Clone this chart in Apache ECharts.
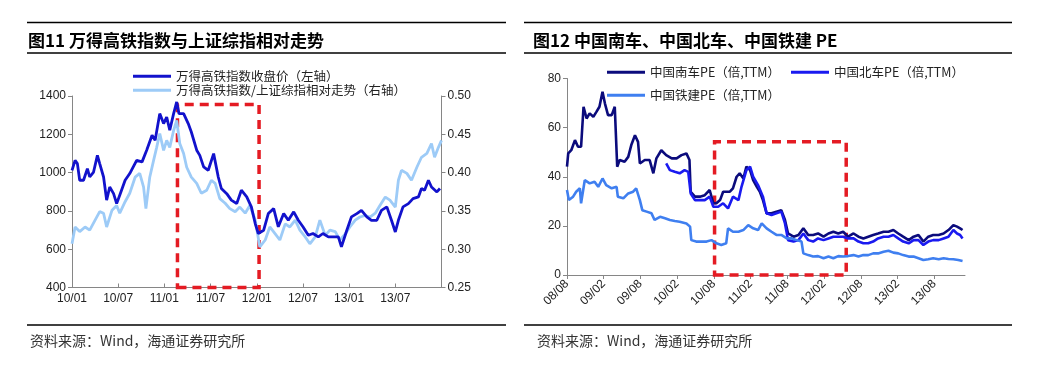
<!DOCTYPE html>
<html><head><meta charset="utf-8">
<script src="https://cdn.jsdelivr.net/npm/echarts@6/dist/echarts.min.js"></script>
<style>html,body{margin:0;padding:0;background:#fff}#c{width:1039px;height:375px}</style>
</head><body><div id="c"></div>
<script>
// ---------- Left chart (months since 2010-01) ----------
var leftXLabels = ['10/01','10/07','11/01','11/07','12/01','12/07','13/01','13/07'];
var leftNames = ['万得高铁指数收盘价（左轴）','万得高铁指数/上证综指相对走势（右轴）'];
var hsrIndex = [[0,1012],[0.4,1064],[0.7,1047],[1.0,960],[1.5,960],[2.0,1021],[2.3,977],[2.8,1003],[3.3,1090],[3.6,1047],[4.1,977],[4.5,856],[4.9,925],[5.4,890],[5.8,838],[6.2,882],[6.9,960],[7.5,995],[8.4,1064],[9.1,1056],[9.7,1117],[10.4,1195],[10.8,1169],[11.4,1308],[11.9,1256],[12.3,1290],[12.7,1221],[13.2,1308],[13.6,1369],[13.9,1308],[14.5,1308],[15.1,1256],[15.5,1212],[16.2,1117],[16.6,1090],[17.1,1030],[17.7,1012],[18.4,1099],[19.0,977],[19.4,917],[20.1,890],[20.7,856],[21.4,838],[22.0,908],[22.7,873],[23.3,821],[23.8,734],[24.2,682],[24.9,699],[25.5,786],[26.2,812],[26.8,717],[27.5,786],[28.1,751],[28.8,795],[29.4,751],[30.0,717],[30.7,673],[31.3,682],[32.0,664],[32.6,682],[33.3,664],[33.9,664],[34.6,664],[35.0,612],[35.7,699],[36.3,769],[37.0,786],[37.6,803],[38.3,769],[38.9,751],[39.6,751],[40.2,803],[40.9,821],[41.5,751],[42.0,690],[42.4,751],[43.0,821],[43.7,838],[44.3,864],[45.0,873],[45.4,917],[45.8,908],[46.3,960],[46.7,925],[47.4,899],[47.8,917]];
var hsrRatio = [[0,0.307],[0.4,0.329],[1.0,0.323],[1.7,0.329],[2.3,0.325],[3.0,0.338],[3.6,0.349],[4.1,0.347],[4.5,0.329],[5.2,0.351],[5.8,0.357],[6.2,0.347],[6.9,0.362],[7.5,0.373],[8.2,0.394],[8.8,0.399],[9.3,0.381],[9.6,0.353],[10.1,0.394],[10.6,0.416],[11.0,0.433],[11.4,0.451],[11.9,0.429],[12.3,0.442],[12.7,0.433],[13.2,0.455],[13.6,0.468],[14.0,0.438],[14.5,0.425],[14.9,0.407],[15.5,0.394],[16.2,0.386],[16.8,0.373],[17.5,0.377],[18.1,0.390],[18.6,0.386],[19.2,0.366],[19.9,0.360],[20.5,0.353],[21.2,0.349],[21.8,0.355],[22.5,0.347],[23.1,0.357],[23.8,0.338],[24.4,0.303],[25.1,0.312],[25.7,0.329],[26.4,0.320],[27.0,0.312],[27.7,0.333],[28.3,0.329],[29.0,0.338],[29.6,0.325],[30.3,0.316],[30.9,0.307],[31.6,0.316],[32.2,0.338],[32.9,0.318],[33.5,0.325],[34.2,0.323],[34.8,0.312],[35.5,0.320],[36.1,0.329],[36.8,0.338],[37.4,0.342],[38.1,0.344],[38.7,0.342],[39.4,0.347],[40.0,0.357],[40.7,0.368],[41.3,0.364],[42.0,0.355],[42.4,0.390],[42.8,0.403],[43.5,0.399],[44.1,0.390],[44.8,0.407],[45.4,0.420],[46.1,0.425],[46.7,0.438],[47.1,0.420],[47.6,0.433],[48.0,0.442]];
var leftBox = {x0: 13.7, x1: 24.3, y0: 400, y1: 1356};

// ---------- Right chart (months since 2008-08) ----------
var rightXLabels = ['08/08','09/02','09/08','10/02','10/08','11/02','11/08','12/02','12/08','13/02','13/08'];
var rightNames = ['中国南车PE（倍,TTM）','中国北车PE（倍,TTM）','中国铁建PE（倍,TTM）'];
var csrPE = [[0,44.1],[0.2,49.5],[0.7,50.8],[1.3,54.9],[1.8,52.2],[2.3,52.2],[2.7,68.5],[3.2,63.7],[3.7,65.8],[4.3,64.4],[4.8,66.4],[5.3,68.5],[5.8,74.6],[6.2,69.8],[6.7,65.1],[7.3,65.1],[7.8,68.5],[8.1,67.8],[8.2,44.1],[8.6,46.8],[9.4,46.1],[10.0,48.1],[10.5,52.9],[11.1,56.9],[11.6,54.2],[11.9,45.4],[12.7,46.8],[13.5,46.8],[14.1,41.4],[14.6,47.5],[15.4,50.8],[16.2,48.8],[17.1,47.5],[17.9,47.5],[18.7,48.8],[19.5,49.5],[20.0,46.8],[20.2,33.9],[20.9,31.9],[21.7,31.9],[22.5,32.5],[23.3,34.6],[23.9,29.2],[24.4,29.2],[25.0,30.5],[25.5,33.9],[26.1,33.9],[26.6,33.9],[27.1,35.3],[27.7,40.0],[28.2,41.4],[28.8,39.3],[29.3,44.1],[29.9,42.7],[30.4,38.6],[31.0,35.9],[31.5,33.9],[32.0,30.5],[32.6,25.1],[33.4,25.1],[34.2,25.8],[35.0,26.4],[35.6,22.4],[36.1,16.9],[37.0,15.6],[37.8,16.3],[38.6,19.0],[39.4,16.3],[40.2,16.3],[41.0,16.9],[41.9,15.6],[42.7,16.9],[43.5,17.6],[44.3,16.9],[45.1,17.6],[45.9,15.6],[46.8,16.9],[47.6,15.6],[48.4,14.9],[49.2,15.6],[50.0,16.3],[50.8,16.9],[51.7,17.6],[52.5,17.6],[53.3,18.3],[54.1,16.9],[54.9,15.6],[55.8,14.2],[56.6,15.6],[57.4,16.3],[58.2,13.6],[59.0,15.6],[59.8,16.3],[60.7,16.3],[61.5,16.9],[62.3,18.3],[63.1,20.3],[63.7,19.7],[64.2,19.0],[64.6,18.3]];
var cnrPE = [[16.2,45.4],[16.8,42.7],[17.6,42.0],[18.4,41.4],[19.2,42.7],[19.8,42.0],[20.2,33.2],[20.9,30.5],[21.7,30.5],[22.5,30.5],[23.3,31.9],[23.9,27.8],[24.7,27.8],[25.5,29.2],[26.3,27.1],[27.1,31.9],[28.0,30.5],[28.5,35.9],[29.3,42.7],[29.9,44.1],[30.4,40.0],[31.2,36.6],[32.0,31.9],[32.6,25.1],[33.4,24.4],[34.2,25.1],[35.0,25.8],[35.6,21.0],[36.1,14.2],[37.0,13.6],[37.8,14.2],[38.6,16.9],[39.4,14.2],[40.2,13.6],[41.0,14.9],[41.9,14.2],[42.7,14.9],[43.5,15.6],[44.3,15.6],[45.1,15.6],[45.9,14.9],[46.8,14.9],[47.6,13.6],[48.4,12.9],[49.2,12.9],[50.0,13.6],[50.8,14.9],[51.7,15.6],[52.5,15.6],[53.3,16.3],[54.1,14.9],[54.9,13.6],[55.8,12.9],[56.6,14.2],[57.4,14.2],[58.2,12.2],[59.0,13.6],[59.8,14.2],[60.7,14.2],[61.5,14.9],[62.3,15.6],[63.1,18.3],[63.7,16.9],[64.2,16.3],[64.6,14.9]];
var crccPE = [[0,34.6],[0.3,30.5],[1.0,31.9],[1.5,33.9],[2.1,35.3],[2.3,29.2],[2.9,38.6],[3.7,37.3],[4.5,38.0],[5.1,35.9],[5.8,39.3],[6.4,36.6],[7.3,35.3],[8.1,35.9],[8.3,31.9],[9.2,31.2],[10.0,33.2],[10.8,33.9],[11.3,35.3],[11.9,30.5],[12.3,26.4],[13.0,25.8],[13.8,25.1],[14.3,22.4],[15.2,23.7],[16.0,23.1],[16.8,22.4],[17.6,22.0],[18.4,21.7],[19.5,21.0],[20.1,19.7],[20.3,14.2],[21.1,13.6],[22.0,13.6],[22.8,13.6],[23.6,14.2],[24.4,12.9],[25.2,12.2],[26.0,12.9],[26.3,19.0],[27.1,17.6],[28.0,17.6],[28.8,18.3],[29.6,20.3],[30.4,19.0],[31.2,18.3],[31.8,21.0],[32.6,19.0],[33.4,17.6],[34.2,16.3],[35.0,16.3],[35.9,14.9],[36.7,14.9],[37.5,14.2],[38.3,13.6],[38.6,8.8],[39.4,8.1],[40.2,7.5],[41.0,7.7],[41.9,6.8],[42.7,7.5],[43.5,6.8],[44.3,7.7],[45.1,7.5],[45.9,7.7],[46.8,8.1],[47.6,7.5],[48.4,8.1],[49.2,8.1],[50.0,8.8],[50.8,8.8],[51.7,9.5],[52.5,9.9],[53.3,9.1],[54.1,8.8],[54.9,8.1],[55.8,7.5],[56.6,7.5],[57.4,6.8],[58.2,6.1],[59.0,6.4],[59.8,6.8],[60.7,6.4],[61.5,6.8],[62.3,6.5],[63.1,6.4],[63.9,6.1],[64.6,5.7]];
var rightBox = {x0: 24.1, x1: 45.6, y0: 0, y1: 54.2};

var titleLeft = '图11 万得高铁指数与上证综指相对走势';
var titleRight = '图12 中国南车、中国北车、中国铁建 PE';
var sourceText = '资料来源：Wind，海通证券研究所';

var CJK = '"Noto Sans CJK SC", "Liberation Sans", sans-serif';
var LAT = '"Liberation Sans", Arial, sans-serif';
var axisGray = '#868686';
var red = '#e41b23';

function boxArea(b) {
  return {
    silent: true,
    itemStyle: {color: 'rgba(0,0,0,0)', borderColor: red, borderWidth: 3.5, borderType: [9, 6]},
    data: [[{xAxis: b.x0, yAxis: b.y0}, {xAxis: b.x1, yAxis: b.y1}]]
  };
}
function lineY(y, x1, x2) {
  return {type: 'line', shape: {x1: x1, y1: y, x2: x2, y2: y}, style: {stroke: '#000', lineWidth: 1.5}};
}
var legendText = {fontFamily: CJK, fontSize: 12.5, color: '#222'};

var option = {
  animation: false,
  backgroundColor: '#fff',
  title: [
    {text: titleLeft, left: 23, top: 27, textStyle: {fontFamily: CJK, fontSize: 17, fontWeight: 'bold', color: '#000'}},
    {text: titleRight, left: 528, top: 27, textStyle: {fontFamily: CJK, fontSize: 17, fontWeight: 'bold', color: '#000'}},
    {text: sourceText, left: 25, top: 329, textStyle: {fontFamily: CJK, fontSize: 14, fontWeight: 'normal', color: '#333'}},
    {text: sourceText, left: 532, top: 329, textStyle: {fontFamily: CJK, fontSize: 14, fontWeight: 'normal', color: '#333'}}
  ],
  graphic: [
    lineY(22.5, 27, 506), lineY(53, 27, 506), lineY(325, 27, 506),
    lineY(22.5, 524, 1012), lineY(53, 524, 1012), lineY(325, 524, 1012)
  ],
  legend: [
    {data: [leftNames[0]], left: 128, top: 65, icon: 'rect', itemWidth: 38, itemHeight: 3, textStyle: legendText},
    {data: [leftNames[1]], left: 128, top: 79, icon: 'rect', itemWidth: 38, itemHeight: 3, textStyle: legendText},
    {data: [rightNames[0], rightNames[1]], left: 602, top: 61, icon: 'rect', itemWidth: 38, itemHeight: 3, itemGap: 11, textStyle: legendText},
    {data: [rightNames[2]], left: 602, top: 84, icon: 'rect', itemWidth: 38, itemHeight: 3, textStyle: legendText}
  ],
  grid: [
    {left: 72, top: 96, width: 369.5, height: 191.5},
    {left: 567, top: 78.5, width: 398, height: 196.5}
  ],
  xAxis: [
    {type: 'value', gridIndex: 0, min: 0, max: 48, interval: 6,
     axisLine: {lineStyle: {color: axisGray}}, axisTick: {show: true, inside: true, length: 4, lineStyle: {color: axisGray}}, splitLine: {show: false},
     axisLabel: {fontFamily: LAT, fontSize: 12, color: '#222', margin: 5, showMaxLabel: false,
       formatter: function (v) { var i = Math.round(v / 6); return (Math.abs(v - i * 6) < 1e-6 && leftXLabels[i]) ? leftXLabels[i] : ''; }}},
    {type: 'value', gridIndex: 1, min: 0, max: 65, interval: 6,
     axisLine: {lineStyle: {color: axisGray}}, axisTick: {show: true, length: 4, lineStyle: {color: axisGray}}, splitLine: {show: false},
     axisLabel: {fontFamily: LAT, fontSize: 12, color: '#222', rotate: 45, margin: 7, showMaxLabel: false,
       formatter: function (v) { var i = Math.round(v / 6); return (Math.abs(v - i * 6) < 1e-6 && rightXLabels[i]) ? rightXLabels[i] : ''; }}}
  ],
  yAxis: [
    {type: 'value', gridIndex: 0, min: 400, max: 1400, interval: 200,
     axisLine: {show: true, lineStyle: {color: axisGray}}, axisTick: {show: true, length: 4, lineStyle: {color: axisGray}},
     splitLine: {show: false}, axisLabel: {fontFamily: LAT, fontSize: 12, color: '#222', margin: 6,
       formatter: function (v) { return String(v); }}},
    {type: 'value', gridIndex: 0, position: 'right', min: 0.25, max: 0.50, interval: 0.05,
     axisLine: {show: true, lineStyle: {color: axisGray}}, axisTick: {show: true, length: 4, lineStyle: {color: axisGray}},
     splitLine: {show: false}, axisLabel: {fontFamily: LAT, fontSize: 12, color: '#222', margin: 6,
       formatter: function (v) { return v.toFixed(2); }}},
    {type: 'value', gridIndex: 1, min: 0, max: 80, interval: 20,
     axisLine: {show: true, lineStyle: {color: axisGray}}, axisTick: {show: true, length: 4, lineStyle: {color: axisGray}},
     splitLine: {show: false}, axisLabel: {fontFamily: LAT, fontSize: 12, color: '#222', margin: 6}}
  ],
  series: [
    {name: leftNames[1], type: 'line', xAxisIndex: 0, yAxisIndex: 1, data: hsrRatio, showSymbol: false, symbol: 'none',
     itemStyle: {color: '#9dcbf7'}, lineStyle: {color: '#9dcbf7', width: 2.8}},
    {name: leftNames[0], type: 'line', xAxisIndex: 0, yAxisIndex: 0, data: hsrIndex, showSymbol: false, symbol: 'none',
     itemStyle: {color: '#1212cc'}, lineStyle: {color: '#1212cc', width: 2.8}, markArea: boxArea(leftBox)},
    {name: rightNames[0], type: 'line', xAxisIndex: 1, yAxisIndex: 2, data: csrPE, showSymbol: false, symbol: 'none',
     itemStyle: {color: '#0b0b7c'}, lineStyle: {color: '#0b0b7c', width: 2.6}, markArea: boxArea(rightBox)},
    {name: rightNames[1], type: 'line', xAxisIndex: 1, yAxisIndex: 2, data: cnrPE, showSymbol: false, symbol: 'none',
     itemStyle: {color: '#1a1af0'}, lineStyle: {color: '#1a1af0', width: 2.6}},
    {name: rightNames[2], type: 'line', xAxisIndex: 1, yAxisIndex: 2, data: crccPE, showSymbol: false, symbol: 'none',
     itemStyle: {color: '#3f7ff0'}, lineStyle: {color: '#3f7ff0', width: 2.6}}
  ]
};
var chart = echarts.init(document.getElementById('c'), null, {renderer: 'canvas'});
chart.setOption(option);
</script>
</body></html>
